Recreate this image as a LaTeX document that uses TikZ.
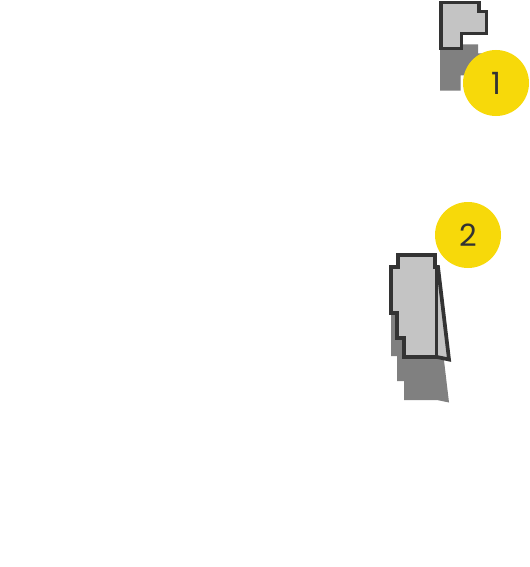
\documentclass[tikz,border=0pt]{standalone}
\usepackage{fontspec}
\setsansfont{Poppins}
\usepackage{xcolor}
\definecolor{badgeyellow}{HTML}{F7D90A}
\definecolor{outlinegray}{HTML}{333333}
\definecolor{bodygray}{HTML}{C4C4C4}
\definecolor{shadowgray}{HTML}{808080}
\tikzset{
  body/.style={draw=outlinegray, fill=bodygray, line width=2.8pt, line join=miter},
  shade/.style={fill=shadowgray, draw=none},
  badge/.style={circle, fill=badgeyellow, minimum size=49.5pt, inner sep=0pt,
                text=outlinegray, font=\sffamily\fontsize{23}{23}\selectfont}
}
% outlines, in pixel units
\newcommand{\shapeone}{(441,2.5) -- (479,2.5) -- (479,11.5) -- (486.5,11.5)
  -- (486.5,33.5) -- (461.5,33.5) -- (461.5,48.5) -- (441,48.5) -- cycle}
\newcommand{\shapetwo}{(398,255) -- (435,255) -- (435,267) -- (438,267)
  -- (449,359.5) -- (437,357) -- (404,357) -- (404,338) -- (397,338)
  -- (397,313) -- (391,313) -- (391,267) -- (398,267) -- cycle}

\begin{document}
\begin{tikzpicture}[x=0.75pt, y=-0.75pt]
        \useasboundingbox (0,0) rectangle (530,567);
        % piece 1
        \fill[shade] [shift={(-1,42)}] \shapeone;
        \draw[body] \shapeone;
        \node[badge] (one) at (496,83) {1};
        % piece 2
        \fill[shade] [shift={(0,43)}] \shapetwo;
        \draw[body] \shapetwo;
        \draw[outlinegray, line width=2.8pt] (436.5,267) -- (436.5,357);
        \node[badge] (two) at (468,235) {2};
      \end{tikzpicture}
\end{document}
